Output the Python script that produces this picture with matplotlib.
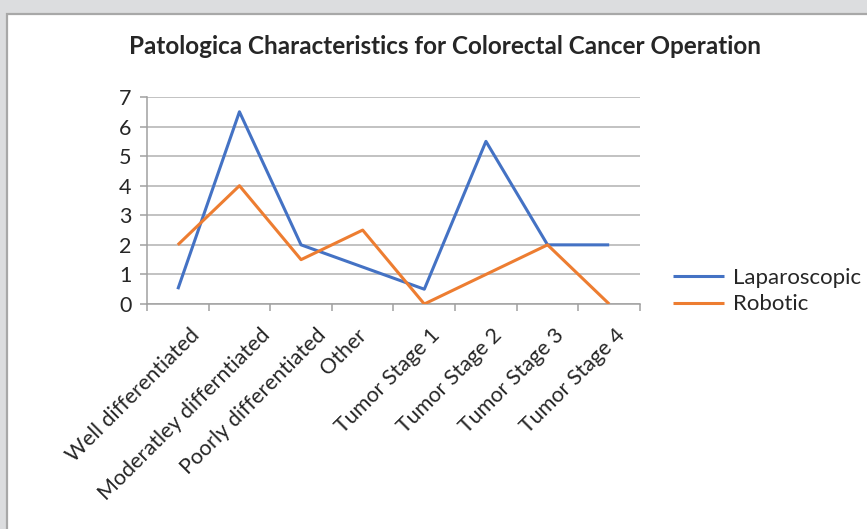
import matplotlib
matplotlib.use("Agg")
import matplotlib.pyplot as plt
from matplotlib.patches import Rectangle
from matplotlib.transforms import ScaledTranslation, blended_transform_factory
from matplotlib.font_manager import FontProperties

# ---- data ----
categories = [
    "Well differentiated",
    "Moderatley differntiated",
    "Poorly differentiated",
    "Other",
    "Tumor Stage 1",
    "Tumor Stage 2",
    "Tumor Stage 3",
    "Tumor Stage 4",
]
laparoscopic = [0.5, 6.5, 2, 1.25, 0.5, 5.5, 2, 2]
robotic = [2, 4, 1.5, 2.5, 0, 1, 2, 0]
y_ticks = [0, 1, 2, 3, 4, 5, 6, 7]
series_names = ["Laparoscopic", "Robotic"]
title = "Patologica Characteristics for Colorectal Cancer Operation"

# ---- style ----
FONT = "Lato"
plt.rcParams["font.family"] = [FONT, "DejaVu Sans"]
TEXT = "#262626"
GRID = "#b2b2b2"
AXIS = "#a0a0a0"
BLUE = "#4472C4"
ORANGE = "#ED7D31"

W, H, DPI = 867, 529, 100
fig = plt.figure(figsize=(W / DPI, H / DPI), dpi=DPI, facecolor="#dcdddf")

# white chart panel with a thin grey frame
panel = Rectangle((7 / W, -0.05), 1.0, 1 - 14 / H + 0.05,
                  transform=fig.transFigure, facecolor="white",
                  edgecolor="#a8a8a8", lw=1.6, zorder=0)
fig.add_artist(panel)

ax = fig.add_axes([147 / W, 1 - 304 / H, (640 - 147) / W, (304 - 97) / H])
ax.set_facecolor("none")

x = list(range(len(categories)))
ax.plot(x, laparoscopic, color=BLUE, lw=2.2, label=series_names[0],
        solid_capstyle="butt", zorder=3)
ax.plot(x, robotic, color=ORANGE, lw=2.2, label=series_names[1],
        solid_capstyle="butt", zorder=3)

ax.set_xlim(-0.5, len(categories) - 0.5)
ax.set_ylim(y_ticks[0], y_ticks[-1])
ax.set_yticks(y_ticks)
ax.set_yticklabels([str(v) for v in y_ticks])
ax.yaxis.grid(True, color=GRID, lw=1.1)
ax.set_axisbelow(True)

for s in ("top", "right"):
    ax.spines[s].set_visible(False)
for s in ("left", "bottom"):
    ax.spines[s].set_color(AXIS)
    ax.spines[s].set_linewidth(1.1)

# category boundary tick marks along the bottom axis
ax.set_xticks([i - 0.5 for i in range(len(categories) + 1)])
ax.set_xticklabels([])
ax.tick_params(axis="x", length=5, width=1.1, color=AXIS, direction="out")
ax.tick_params(axis="y", length=5, width=1.1, color=AXIS, direction="out",
               labelsize=15.5, labelcolor=TEXT, pad=6)

# rotated category labels; longer labels sit a little further right
fig.canvas.draw()
renderer = fig.canvas.get_renderer()
lab_fp = FontProperties(family=[FONT, "DejaVu Sans"], size=15.5)
trans = blended_transform_factory(ax.transData, ax.transAxes)
for i, lab in enumerate(categories):
    w, _, _ = renderer.get_text_width_height_descent(lab, lab_fp, ismath=False)
    dx_px = 0.15 * w - 15
    off = ScaledTranslation(dx_px / DPI, -21 / DPI, fig.dpi_scale_trans)
    ax.text(i, 0, lab, transform=trans + off, rotation=45,
            rotation_mode="anchor", ha="right", va="top",
            fontproperties=lab_fp, color=TEXT)

fig.text(445 / W, 1 - 47 / H, title, ha="center", va="center",
         fontsize=17.5, fontweight="bold", color=TEXT)

fig.legend(loc="center left", bbox_to_anchor=(664 / W, 1 - 291 / H),
           frameon=False, fontsize=16, handlelength=2.3,
           handletextpad=0.4, labelspacing=0.3, borderaxespad=0,
           labelcolor=TEXT)

fig.savefig("out.png", dpi=DPI, facecolor=fig.get_facecolor())
